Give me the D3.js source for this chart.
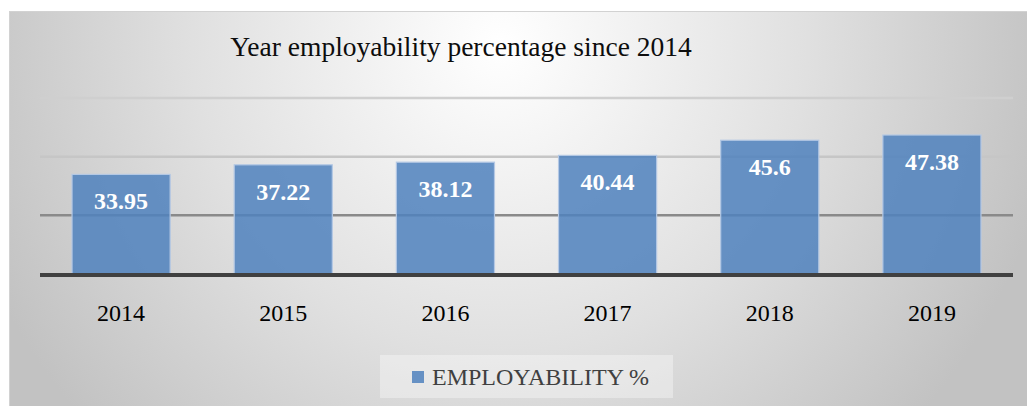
<!DOCTYPE html>
<html>
<head>
<meta charset="utf-8">
<script src="https://cdn.jsdelivr.net/npm/d3@7"></script>
<style>
html,body{margin:0;padding:0;background:#fff;}
svg{display:block;}
text{font-family:"Liberation Serif","Times New Roman",serif;}
</style>
</head>
<body>
<svg id="chart" width="1027" height="406"></svg>
<script>
const categories = ["2014", "2015", "2016", "2017", "2018", "2019"];
const values = [33.95, 37.22, 38.12, 40.44, 45.6, 47.38];
const valueLabels = ["33.95", "37.22", "38.12", "40.44", "45.6", "47.38"];
const gridTicks = [20, 40, 60];
const gridColors = ["#8a8a8a", "#c6c6c6", "#cfcfcf"];
const title = "Year employability percentage since 2014";
const seriesName = "EMPLOYABILITY %";

const svg = d3.select("#chart");
const W = 1027, H = 406;

const defs = svg.append("defs");
const grad = defs.append("radialGradient")
  .attr("id", "bg").attr("gradientUnits", "userSpaceOnUse")
  .attr("cx", 500).attr("cy", 45).attr("r", 560);
grad.append("stop").attr("offset", "0").attr("stop-color", "#ffffff");
grad.append("stop").attr("offset", "0.55").attr("stop-color", "#e0e0e0");
grad.append("stop").attr("offset", "1").attr("stop-color", "#c2c2c2");

svg.append("rect").attr("x", 9.5).attr("y", 11.5).attr("width", W).attr("height", H)
  .attr("fill", "url(#bg)").attr("stroke", "#d2d2d2").attr("stroke-width", 1);

const plotL = 40, plotR = 1013;
const x = d3.scaleBand().domain(categories).range([plotL, plotR]).paddingInner(0.395).paddingOuter(0.1975);
const y = d3.scaleLinear().domain([0, 60]).range([274, 98]);

// gridlines
svg.append("g").selectAll("line").data(gridTicks).join("line")
  .attr("x1", plotL).attr("x2", plotR)
  .attr("y1", d => y(d)).attr("y2", d => y(d))
  .attr("stroke", (d, i) => gridColors[i]).attr("stroke-width", 2.5);

// bars
svg.append("g").selectAll("rect").data(values).join("rect")
  .attr("x", (d, i) => x(categories[i]))
  .attr("width", x.bandwidth())
  .attr("y", d => y(d))
  .attr("height", d => y(0) - y(d))
  .attr("fill", "#4f81bd").attr("fill-opacity", 0.85)
  .attr("stroke", "#b4c8e4").attr("stroke-width", 1.2);

// baseline axis
const xAxis = d3.axisBottom(x).tickSize(0).tickPadding(0);
const ax = svg.append("g").attr("transform", `translate(0,${y(0) + 1})`).call(xAxis);
ax.select(".domain").attr("stroke", "#404040").attr("stroke-width", 4)
  .attr("d", `M${plotL},0H${plotR}`);
ax.selectAll(".tick text").attr("y", 46).attr("dy", 0)
  .attr("font-size", 24).attr("fill", "#000")
  .attr("font-family", "'Liberation Serif','Times New Roman',serif");

// value labels
svg.append("g").selectAll("text").data(values).join("text")
  .attr("x", (d, i) => x(categories[i]) + x.bandwidth() / 2)
  .attr("y", d => y(d) + 35)
  .attr("text-anchor", "middle")
  .attr("font-size", 24).attr("font-weight", "bold").attr("fill", "#fff")
  .text((d, i) => valueLabels[i]);

// title
svg.append("text").attr("x", 461).attr("y", 56).attr("text-anchor", "middle")
  .attr("font-size", 27.5).attr("fill", "#0d0d0d").text(title);

// legend
const lg = svg.append("g");
lg.append("rect").attr("x", 380).attr("y", 355).attr("width", 293).attr("height", 43)
  .attr("fill", "#ffffff").attr("fill-opacity", 0.35);
lg.append("rect").attr("x", 412).attr("y", 371).attr("width", 12).attr("height", 12)
  .attr("fill", "#4f81bd").attr("fill-opacity", 0.85);
lg.append("text").attr("x", 432).attr("y", 385).attr("font-size", 24).attr("fill", "#404040")
  .text(seriesName);
</script>
</body>
</html>
